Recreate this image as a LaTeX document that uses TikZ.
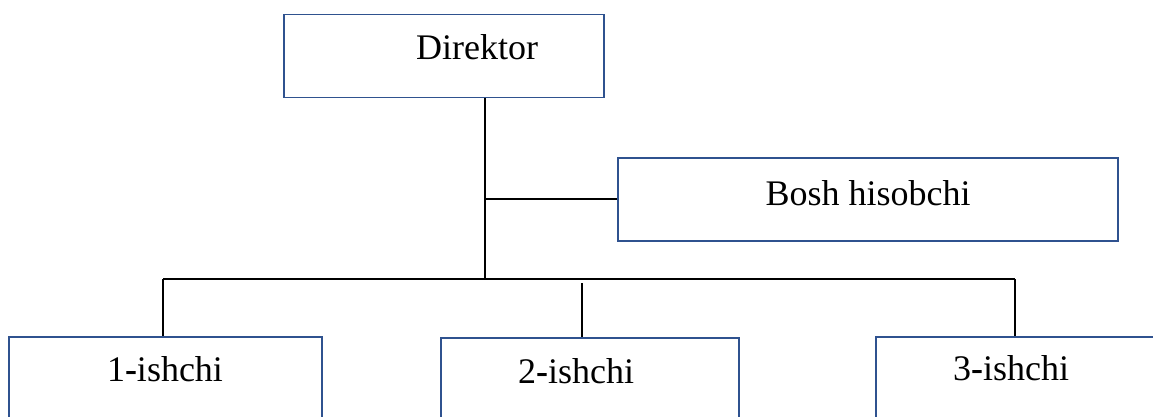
\documentclass[tikz,border=0pt]{standalone}
\usepackage{fontspec}
\setmainfont{Liberation Serif}
\definecolor{boxblue}{HTML}{2F528F}
\tikzset{
  box/.style={draw=boxblue, line width=1.5pt, rectangle, inner sep=0pt, anchor=north west},
  lbl/.style={inner sep=0pt, anchor=base, font=\fontsize{36}{40}\selectfont},
  conn/.style={draw=black, line width=2pt}
}
\begin{document}
\begin{tikzpicture}[x=1pt,y=-1pt]
\useasboundingbox (0,0) rectangle (1153,417);
\clip (0,0) rectangle (1153,417);
% boxes
\node[box, minimum width=320pt, minimum height=83pt] (dir) at (283,14) {};
\node[box, minimum width=500pt, minimum height=83pt] (bosh) at (617,157) {};
\node[box, minimum width=313pt, minimum height=100pt] (w1) at (8,336) {};
\node[box, minimum width=298pt, minimum height=100pt] (w2) at (440,337) {};
\node[box, minimum width=300pt, minimum height=100pt] (w3) at (875,336) {};
% labels
\node[lbl] (dirt) at (477,60) {Direktor};
\node[lbl] (bosht) at (868,205) {Bosh hisobchi};
\node[lbl] (w1t) at (165,381) {1\textbf{-}ishchi};
\node[lbl] (w2t) at (576,383) {2\textbf{-}ishchi};
\node[lbl] (w3t) at (1011,380) {3\textbf{-}ishchi};
% connectors
\coordinate (jb) at (485,199);
\coordinate (jm) at (485,279);
\coordinate (l1) at (163,279);
\coordinate (r3) at (1015,279);
\coordinate (m2) at (582,283);
\draw[conn] (dir.south -| jm) -- (jm);
\draw[conn] (jb) -- (bosh.west |- jb);
\draw[conn] (l1) -- (r3);
\draw[conn] (l1) -- (l1 |- w1.north);
\draw[conn] (r3) -- (r3 |- w3.north);
\draw[conn] (m2) -- (m2 |- w2.north);
\end{tikzpicture}
\end{document}
